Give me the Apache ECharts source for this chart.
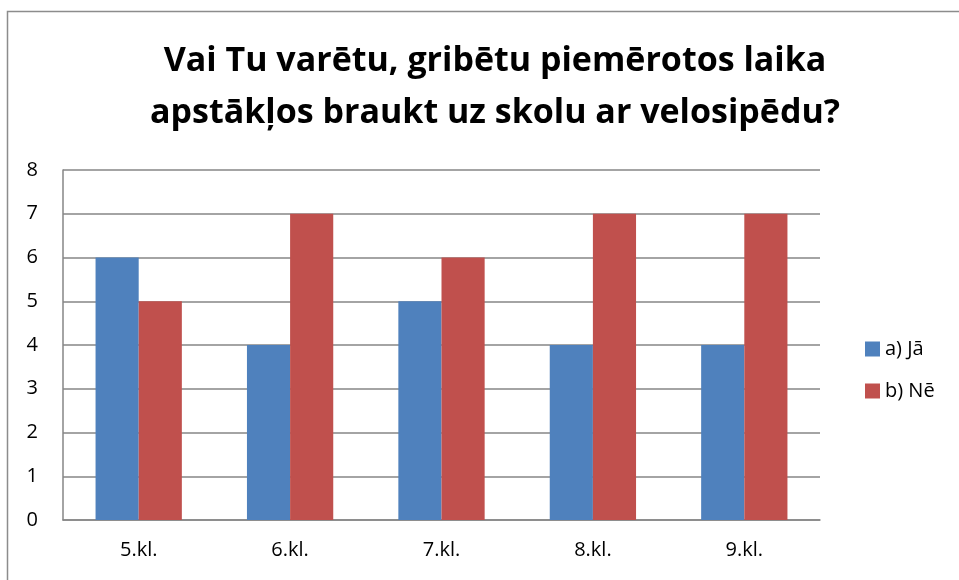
<!DOCTYPE html>
<html>
<head>
<meta charset="utf-8">
<script src="https://cdn.jsdelivr.net/npm/echarts@6/dist/echarts.min.js"></script>
<style>
  html, body { margin: 0; padding: 0; background: #fff; }
  #chart { width: 959px; height: 580px; }
</style>
</head>
<body>
<div id="chart"></div>
<script>
var classes = ['5.kl.', '6.kl.', '7.kl.', '8.kl.', '9.kl.'];
var yesValues = [6, 4, 5, 4, 4];
var noValues = [5, 7, 6, 7, 7];
var seriesNames = ['a) Jā', 'b) Nē'];

var chart = echarts.init(document.getElementById('chart'));
var font = 'Open Sans';
var option = {
    animation: false,
    color: ['#4f81bd', '#c0504d'],
    // outer chart frame, runs off the right and bottom edge
    graphic: [
        {
            type: 'rect',
            shape: { x: 7.5, y: 11.5, width: 1000, height: 700 },
            style: { fill: 'none', stroke: '#8c8c8c', lineWidth: 1.5 },
            silent: true
        }
    ],
    title: {
        text: 'Vai Tu varētu, gribētu piemērotos laika\napstākļos braukt uz skolu ar velosipēdu?',
        left: 490,
        textAlign: 'center',
        top: 30,
        textStyle: {
            fontFamily: font,
            fontWeight: 'bold',
            fontSize: 34,
            lineHeight: 52,
            color: '#000'
        }
    },
    legend: {
        orient: 'vertical',
        left: 860,
        top: 334,
        itemWidth: 15,
        itemHeight: 15,
        itemGap: 22,
        icon: 'rect',
        textStyle: { fontFamily: font, fontSize: 20, color: '#000' },
        data: seriesNames
    },
    grid: {
        left: 63,
        right: 959 - 820,
        top: 170,
        bottom: 580 - 520,
        containLabel: false
    },
    xAxis: {
        type: 'category',
        data: classes,
        axisLine: { show: true, lineStyle: { color: '#868686', width: 1.5 } },
        axisTick: { show: false },
        axisLabel: { fontFamily: font, fontSize: 20, color: '#000', margin: 20 }
    },
    yAxis: {
        type: 'value',
        min: 0,
        max: 8,
        interval: 1,
        axisLine: { show: true, lineStyle: { color: '#868686', width: 1.5 } },
        axisTick: { show: false },
        splitLine: { lineStyle: { color: '#868686', width: 1.5 } },
        axisLabel: { fontFamily: font, fontSize: 20, color: '#000', margin: 25 }
    },
    series: [
        {
            name: seriesNames[0],
            type: 'bar',
            data: yesValues,
            barGap: '0%',
            barCategoryGap: '43%'
        },
        {
            name: seriesNames[1],
            type: 'bar',
            data: noValues,
            barGap: '0%',
            barCategoryGap: '43%'
        }
    ]
};
chart.setOption(option);
window.addEventListener('resize', function () {
    chart.resize();
});
</script>
</body>
</html>
